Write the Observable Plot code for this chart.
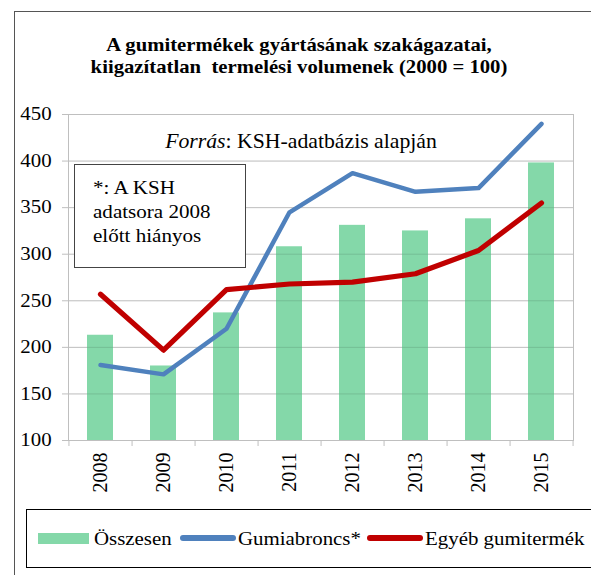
<!DOCTYPE html>
<html><head><meta charset="utf-8">
<script src="https://cdn.jsdelivr.net/npm/d3@7"></script>
<script src="https://cdn.jsdelivr.net/npm/@observablehq/plot@0.6"></script>
<style>
body{margin:0;background:#fff;}
#wrap{position:relative;width:591px;height:575px;overflow:hidden;font-family:"Liberation Serif","Times New Roman",serif;color:#000;}
#wrap *{font-family:"Liberation Serif","Times New Roman",serif;}
#wrap svg{position:absolute;left:0;top:0;}
.abs{position:absolute;white-space:nowrap;}
</style></head>
<body>
<div id="wrap"></div>
<script>
const years = ["2008","2009","2010","2011","2012","2013","2014","2015"];
const osszesen = [213, 180, 237, 308, 331, 325, 338, 398];
const gumiabroncs = [181, 171, 220, 345, 387, 367, 371, 440];
const egyeb = [257, 197, 262, 268, 270, 279, 304, 355];
const yTicks = [100, 150, 200, 250, 300, 350, 400, 450];
const titleLines = ["A gumitermékek gyártásának szakágazatai,", "kiigazítatlan\u00a0 termelési volumenek (2000 = 100)"];
const sourceLabel = ["Forrás", ": KSH-adatbázis alapján"];
const noteLines = ["*: A KSH", "adatsora 2008", "előtt hiányos"];
const seriesNames = ["Összesen", "Gumiabroncs*", "Egyéb gumitermék"];
const colors = ["#84d8a9", "#4f81bd", "#c00000"];

const rows = years.map((y, i) => ({year: y, o: osszesen[i], g: gumiabroncs[i], e: egyeb[i]}));

const W = 591, H = 575;
const mL = 68, mR = 18, mT = 114, mB = 135;
const step = (W - mL - mR) / years.length;
const SX = 1.16; // horizontal stretch of the reference text

const plot = Plot.plot({
  width: W, height: H,
  marginLeft: mL, marginRight: mR, marginTop: mT, marginBottom: mB,
  style: {fontFamily: '"Liberation Serif","Times New Roman",serif', fontSize: "18px", color: "#000", background: "transparent"},
  x: {domain: years, paddingInner: 0.59, paddingOuter: 0.295, label: null},
  y: {domain: [100, 450], ticks: yTicks, label: null},
  marks: [
    Plot.gridY(yTicks, {stroke: "#d9d9d9", strokeOpacity: 1}),
    Plot.barY(rows, {x: "year", y1: 100, y2: "o", fill: colors[0]}),
    Plot.gridY(yTicks, {stroke: "#000", strokeOpacity: 0.12}),
    Plot.frame({stroke: "#bfbfbf"}),
    Plot.axisY(yTicks, {tickSize: 6, tickPadding: 11, stroke: "#bfbfbf", fontSize: 18, tickFormat: d => String(d)}),
    Plot.axisX({tickSize: 0, tickRotate: -90, tickPadding: 12, fontSize: 20}),
    Plot.ruleX(years, {x: d => d, dx: step / 2, y1: 100, y2: 100, insetBottom: -6, stroke: "#bfbfbf"}),
    Plot.ruleX([years[0]], {x: d => d, dx: -step / 2, y1: 100, y2: 100, insetBottom: -6, stroke: "#bfbfbf"}),
    Plot.lineY(rows, {x: "year", y: "g", stroke: colors[1], strokeWidth: 4.5, curve: "linear"}),
    Plot.lineY(rows, {x: "year", y: "e", stroke: colors[2], strokeWidth: 5.2, curve: "linear"})
  ]
});
const wrap = document.getElementById("wrap");
wrap.appendChild(plot);

// stretch y tick labels horizontally around their right edge
const ylab = plot.querySelector('g[aria-label="y-axis tick label"]');
if (ylab) {
  const X = mL - 17;
  const g = document.createElementNS("http://www.w3.org/2000/svg", "g");
  g.setAttribute("transform", `translate(${X},0) scale(${SX},1) translate(${-X},0)`);
  ylab.parentNode.insertBefore(g, ylab);
  g.appendChild(ylab);
}

function add(html, css) {
  const d = document.createElement("div");
  d.className = "abs";
  d.style.cssText = css;
  d.innerHTML = html;
  wrap.appendChild(d);
  return d;
}
// outer frame
add("", "left:14px;top:11px;width:700px;height:700px;border-left:1.5px solid #555;border-top:1.5px solid #555;");
// title
titleLines.forEach((t, i) => add(t, `left:0;top:${34 + i * 22}px;width:598px;text-align:center;font-weight:bold;font-size:19px;line-height:22px;transform:scaleX(1.09);transform-origin:299px 50%;`));
// source
add("<i>" + sourceLabel[0] + "</i>" + sourceLabel[1], "left:0;top:129px;width:602px;text-align:center;font-size:21px;line-height:25px;transform:scaleX(1.035);transform-origin:301px 50%;");
// note box
add("", "left:74px;top:164px;width:170px;height:102px;border:1px solid #444;background:#fff;");
add(noteLines.join("<br>"), `left:93px;top:176px;font-size:18px;line-height:24px;transform:scaleX(1.17);transform-origin:0 50%;`);
// legend
add("", "left:26px;top:509px;width:620px;height:57px;border:1.5px solid #000;");
add("", `left:38px;top:533px;width:51px;height:11px;background:${colors[0]};`);
add("", `left:180px;top:535px;width:56px;height:6px;border-radius:3px;background:${colors[1]};`);
add("", `left:367px;top:535px;width:56px;height:6px;border-radius:3px;background:${colors[2]};`);
[[94, 0], [238, 1], [425, 2]].forEach(([x, i]) =>
  add(seriesNames[i], `left:${x}px;top:527px;font-size:18px;line-height:24px;transform:scaleX(${SX});transform-origin:0 50%;`));
</script>
</body></html>
